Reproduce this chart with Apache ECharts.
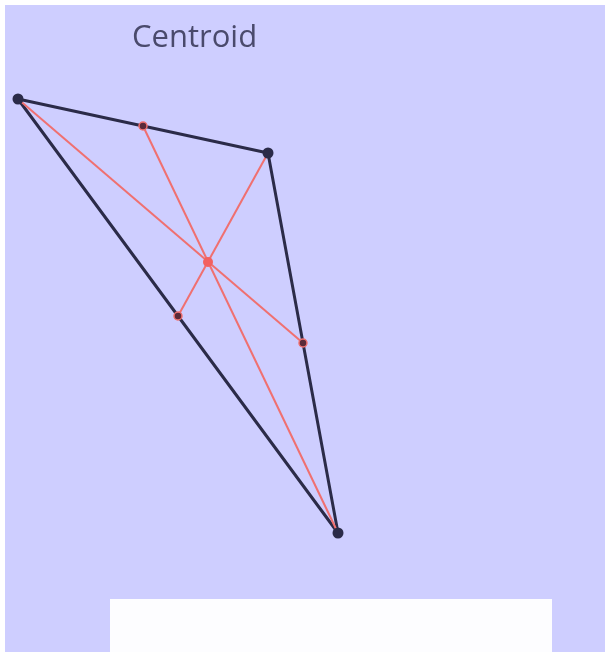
<!DOCTYPE html>
<html>
<head>
<meta charset="utf-8">
<script src="https://cdn.jsdelivr.net/npm/echarts@6/dist/echarts.min.js"></script>
<style>
  html, body { margin: 0; padding: 0; background: #ffffff; }
  #main { position: absolute; left: 5px; top: 5px; width: 600px; height: 647px; }
</style>
</head>
<body>
<div id="main"></div>
<script>
// triangle vertices (x, y), y grows downward
var vertices = [[13, 94], [263, 148], [333, 528]];
// side midpoints: AB, BC, CA
var midpoints = [[138, 121], [298, 338], [173, 311]];
// centroid
var centroid = [[203, 257]];
// medians: vertex -> midpoint of opposite side
var medians = [
  [[13, 94], [298, 338]],
  [[263, 148], [173, 311]],
  [[333, 528], [138, 121]]
];

var edgeColor = '#2b2b48';
var medianColor = '#f07070';

var myChart = echarts.init(document.getElementById('main'));

myChart.setOption({
  backgroundColor: '#ceceff',
  animation: false,
  title: {
    text: 'Centroid',
    left: 122,
    top: 13,
    textStyle: {
      color: '#4a4a6c',
      fontWeight: 'normal',
      fontFamily: 'Open Sans',
      fontSize: 31
    }
  },
  grid: {left: 0, right: 0, top: 0, bottom: 0},
  xAxis: {type: 'value', min: 0, max: 600, show: false},
  yAxis: {type: 'value', min: 0, max: 647, inverse: true, show: false},
  graphic: [{
    type: 'rect',
    shape: {x: 105, y: 594, width: 442, height: 60},
    style: {fill: '#fdfdff'},
    z: 10
  }],
  series: [
    {
      type: 'line',
      data: vertices.concat([vertices[0]]),
      symbol: 'none',
      lineStyle: {color: edgeColor, width: 3},
      z: 2
    },
    {
      type: 'lines',
      coordinateSystem: 'cartesian2d',
      data: medians.map(function (m) { return {coords: m}; }),
      lineStyle: {color: medianColor, width: 2, opacity: 1},
      z: 3
    },
    {
      type: 'scatter',
      data: vertices,
      symbolSize: 11,
      itemStyle: {color: edgeColor, opacity: 1},
      z: 4
    },
    {
      type: 'scatter',
      data: midpoints,
      symbolSize: 8,
      itemStyle: {color: '#5a2a3a', borderColor: medianColor, borderWidth: 1.5, opacity: 1},
      z: 5
    },
    {
      type: 'scatter',
      data: centroid,
      symbolSize: 10,
      itemStyle: {color: '#f26060', opacity: 1},
      z: 5
    }
  ]
});
</script>
</body>
</html>
